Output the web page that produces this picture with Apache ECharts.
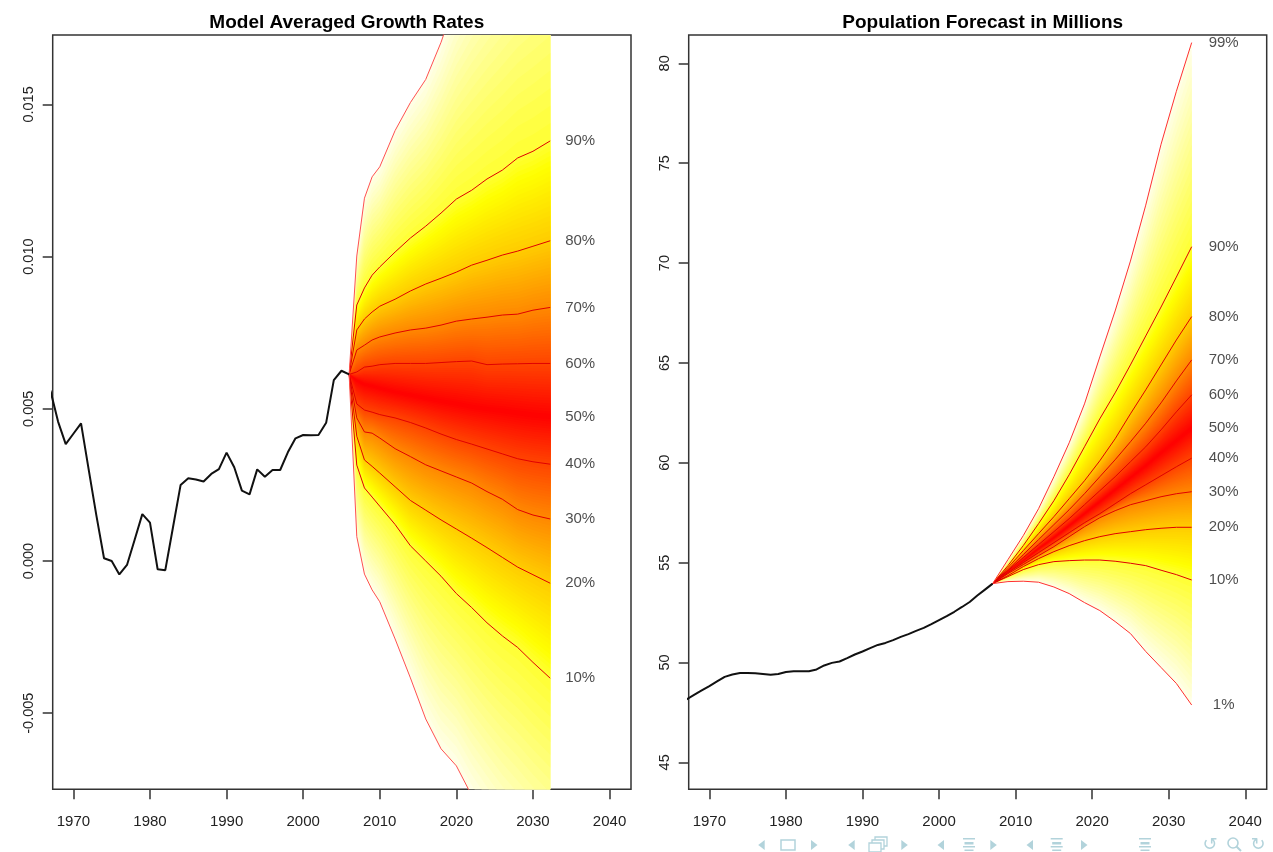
<!DOCTYPE html>
<html><head><meta charset="utf-8">
<script src="https://cdn.jsdelivr.net/npm/echarts@6/dist/echarts.min.js"></script>
<style>html,body{margin:0;padding:0;background:#fff}#c{width:1273px;height:852px}</style>
</head><body><div id="c"></div>
<script>
// ---------------- data ----------------
const xTicks = [1970, 1980, 1990, 2000, 2010, 2020, 2030, 2040];
const growthTicks = [-0.005, 0.000, 0.005, 0.010, 0.015];
const popTicks = [45, 50, 55, 60, 65, 70, 75, 80];

const growthHistYears = [1967,1968,1969,1970,1971,1972,1973,1974,1975,1976,1977,1978,1979,1980,1981,1982,1983,1984,1985,1986,1987,1988,1989,1990,1991,1992,1993,1994,1995,1996,1997,1998,1999,2000,2001,2002,2003,2004,2005,2006];
const growthHist = [0.0056,0.00458,0.00384,0.00418,0.00452,0.0030,0.0015,0.00009,0.0000,-0.00044,-0.00013,0.0007,0.00154,0.00126,-0.00027,-0.0003,0.0011,0.0025,0.00272,0.00268,0.00261,0.00286,0.00302,0.00356,0.00308,0.00231,0.00219,0.00301,0.00277,0.00299,0.00299,0.00357,0.00403,0.00414,0.00413,0.00414,0.00454,0.00594,0.00625,0.00613];

const popHistYears = [1967,1968,1969,1970,1971,1972,1973,1974,1975,1976,1977,1978,1979,1980,1981,1982,1983,1984,1985,1986,1987,1988,1989,1990,1991,1992,1993,1994,1995,1996,1997,1998,1999,2000,2001,2002,2003,2004,2005,2006,2007];
const popHist = [48.15,48.38,48.6,48.82,49.05,49.28,49.40,49.47,49.47,49.46,49.42,49.38,49.42,49.52,49.56,49.56,49.56,49.65,49.85,49.98,50.05,50.22,50.40,50.55,50.72,50.88,50.98,51.12,51.28,51.42,51.58,51.73,51.92,52.12,52.32,52.54,52.78,53.03,53.35,53.65,53.95];

// growth-rate forecast percentiles
const growthFcYears = [2006,2007,2008,2009,2010,2012,2014,2016,2018,2020,2022,2024,2026,2028,2030,2032.25];
const g01 = [0.00613,0.0008,-0.00043,-0.00095,-0.00134,-0.00256,-0.00384,-0.00519,-0.00617,-0.00673,-0.0077,-0.0085,-0.0093,-0.0100,-0.0107,-0.0114];
const g10 = [0.00613,0.00315,0.0024,0.0021,0.0018,0.0012,0.0005,0.0000,-0.0005,-0.00107,-0.00153,-0.00203,-0.00246,-0.00284,-0.00333,-0.00385];
const g20 = [0.00613,0.0041,0.00332,0.00311,0.00289,0.00244,0.00199,0.00167,0.00135,0.00105,0.00075,0.00044,0.00012,-0.0002,-0.00045,-0.00073];
const g30 = [0.00613,0.0047,0.00424,0.0042,0.00404,0.00369,0.00343,0.00316,0.00296,0.00276,0.00256,0.00228,0.00203,0.00169,0.00151,0.00138];
const g40 = [0.00613,0.00516,0.00496,0.00489,0.00481,0.0047,0.00455,0.00437,0.00417,0.00399,0.00384,0.00368,0.00352,0.00336,0.00326,0.00318];
const g50 = [0.00613,0.00594,0.00581,0.00575,0.00568,0.00555,0.00545,0.00535,0.00525,0.00516,0.00506,0.00499,0.00493,0.00486,0.00479,0.00474];
const g60 = [0.00613,0.00621,0.00637,0.0064,0.00645,0.00649,0.00649,0.00649,0.00652,0.00655,0.00657,0.00645,0.00647,0.00648,0.00649,0.00649];
const g70 = [0.00613,0.00693,0.00709,0.00726,0.00736,0.00749,0.00759,0.00765,0.00775,0.00788,0.00795,0.00801,0.00808,0.00811,0.00824,0.00833];
const g80 = [0.00613,0.00759,0.00795,0.00818,0.00837,0.0086,0.00887,0.0091,0.00929,0.00949,0.00972,0.00988,0.01005,0.01018,0.01034,0.01052];
const g90 = [0.00613,0.00841,0.00897,0.00939,0.00966,0.01015,0.01061,0.011,0.01143,0.01189,0.01218,0.01255,0.01284,0.01324,0.01346,0.0138];
const g99 = [0.00613,0.01002,0.01192,0.01262,0.01295,0.01414,0.01506,0.01582,0.01704,0.0185,0.0197,0.0207,0.0217,0.0226,0.0234,0.0242];

// population forecast percentiles
const popFcYears = [2007,2009,2011,2013,2015,2017,2019,2021,2023,2025,2027,2029,2031,2033];
const p01 = [53.95,54.05,54.07,54.02,53.78,53.45,53.0,52.6,52.05,51.45,50.55,49.75,48.95,47.87];
const p10 = [53.95,54.3,54.65,54.9,55.05,55.1,55.13,55.13,55.07,54.97,54.85,54.62,54.4,54.13];
const p20 = [53.95,54.35,54.8,55.2,55.55,55.85,56.1,56.3,56.45,56.55,56.65,56.72,56.77,56.77];
const p30 = [53.95,54.45,54.9,55.35,55.8,56.3,56.8,57.25,57.6,57.9,58.1,58.3,58.45,58.55];
const p40 = [53.95,54.5,55.0,55.5,56.0,56.5,57.0,57.45,57.95,58.45,58.9,59.35,59.8,60.23];
const p50 = [53.95,54.55,55.1,55.7,56.25,56.85,57.45,58.05,58.65,59.25,59.85,60.5,61.1,61.73];
const p60 = [53.95,54.6,55.25,55.9,56.55,57.2,57.9,58.6,59.3,60.05,60.8,61.65,62.55,63.4];
const p70 = [53.95,54.65,55.4,56.15,56.9,57.65,58.45,59.3,60.15,61.05,61.98,63.0,64.1,65.15];
const p80 = [53.95,54.75,55.6,56.45,57.3,58.2,59.1,60.1,61.2,62.45,63.65,64.9,66.15,67.32];
const p90 = [53.95,54.85,55.85,56.95,58.1,59.4,60.8,62.2,63.5,64.9,66.35,67.8,69.3,70.82];
const p99 = [53.95,55.15,56.35,57.7,59.3,61.0,62.95,65.3,67.6,70.1,72.9,75.95,78.6,81.04];

const fanProbs = [1,10,20,30,40,50,60,70,80,90,99];
const growthLines = [g01,g10,g20,g30,g40,g50,g60,g70,g80,g90,g99];
const popLines = [p01,p10,p20,p30,p40,p50,p60,p70,p80,p90,p99];
const growthLabelProbs = [10,20,30,40,50,60,70,80,90];
const popLabelProbs = [1,10,20,30,40,50,60,70,80,90,99];

// ---------------- rendering helpers ----------------
const FONT = 'Liberation Sans, Arial, Helvetica, sans-serif';
const TXT = '#222';

function heat(d){ // 0 = centre (red) ... 1 = outer (white)
  let g, b;
  if (d <= 0.75) { g = Math.round(255 * d / 0.75); b = 0; }
  else { g = 255; b = Math.round(255 * Math.min(1, (d - 0.75) / 0.25)); }
  return 'rgb(255,' + g + ',' + b + ')';
}
// shade between neighbouring drawn percentile lines (rendering only)
function level(lines, p, i){
  let j = 0;
  while (j < fanProbs.length - 2 && p > fanProbs[j+1]) j++;
  const t = (p - fanProbs[j]) / (fanProbs[j+1] - fanProbs[j]);
  return lines[j][i] * (1 - t) + lines[j+1][i] * t;
}
function fanSeries(idx, years, lines){
  const lv = [];
  for (let p = 1; p < 50; p += 0.5) lv.push([p]);
  return {
    type: 'custom', xAxisIndex: idx, yAxisIndex: idx, silent: true, z: 1,
    data: lv, encode: {x: -1, y: -1},
    renderItem(params, api){
      const p = lv[params.dataIndex][0];
      const pts = [];
      for (let i = 0; i < years.length; i++) pts.push(api.coord([years[i], level(lines, p, i)]));
      for (let i = years.length - 1; i >= 0; i--) pts.push(api.coord([years[i], level(lines, 100 - p, i)]));
      const cs = params.coordSys;
      const col = heat((50 - (p + 0.25)) / 50);
      return {
        type: 'group',
        clipPath: {type: 'rect', shape: {x: cs.x, y: cs.y, width: cs.width, height: cs.height}},
        children: [{type: 'polygon', shape: {points: pts}, style: {fill: col}}]
      };
    }
  };
}
function lineSeries(idx, years, vals, color, width, z){
  return {type: 'line', xAxisIndex: idx, yAxisIndex: idx, data: years.map((y, i) => [y, vals[i]]),
    showSymbol: false, symbol: 'none', silent: true, z: z, clip: true,
    lineStyle: {color: color, width: width}, animation: false};
}
function labelSeries(idx, years, lines, probs, dx){
  const last = years.length - 1;
  return {type: 'scatter', xAxisIndex: idx, yAxisIndex: idx, silent: true, z: 6, symbolSize: 1,
    itemStyle: {color: 'transparent'},
    data: probs.map(p => [years[last], lines[fanProbs.indexOf(p)][last]]),
    label: {show: true, position: 'inside', offset: [dx, 0], align: 'center', verticalAlign: 'middle',
      formatter: (q) => probs[q.dataIndex] + '%', fontSize: 15, color: TXT, fontFamily: FONT}};
}

const gridL = {left: 52.7, top: 35, width: 578.3, height: 754.3};
const gridR = {left: 688.7, top: 35, width: 578.0, height: 754.3};

function xAxis(i){
  return {type: 'value', gridIndex: i, min: 1967.3, max: 2042.8,
    splitLine: {show: false}, axisLine: {show: false, onZero: false},
    axisTick: {show: true, length: 10, customValues: xTicks, lineStyle: {color: '#333', width: 1.5}},
    axisLabel: {customValues: xTicks, margin: 25, fontSize: 15, color: TXT, fontFamily: FONT, formatter: v => String(v)}};
}
function yAxis(i, min, max, ticks, fmt){
  return {type: 'value', gridIndex: i, min: min, max: max,
    splitLine: {show: false}, axisLine: {show: false, onZero: false},
    axisTick: {show: true, length: 10, customValues: ticks, lineStyle: {color: '#333', width: 1.5}},
    axisLabel: {customValues: ticks, rotate: 90, margin: 16, fontSize: 14.5, color: TXT, fontFamily: FONT, formatter: fmt}};
}

const series = [];
series.push(fanSeries(0, growthFcYears, growthLines));
series.push(fanSeries(1, popFcYears, popLines));
// percentile lines
[1,10,20,30,40,60,70,80,90,99].forEach(p => {
  const outer = (p === 1 || p === 99);
  series.push(lineSeries(0, growthFcYears, growthLines[fanProbs.indexOf(p)], outer ? '#ff5050' : '#e00000', 1, outer ? 3 : 2));
  series.push(lineSeries(1, popFcYears, popLines[fanProbs.indexOf(p)], outer ? '#ff3030' : '#e00000', 1, outer ? 3 : 2));
});
series.push(lineSeries(0, growthHistYears, growthHist, '#111', 2, 4));
series.push(lineSeries(1, popHistYears, popHist, '#111', 2, 4));
series.push(labelSeries(0, growthFcYears, growthLines, growthLabelProbs, 30));
series.push(labelSeries(1, popFcYears, popLines, popLabelProbs, 32));

// beamer navigation symbols (decoration)
const NAV = '#b2d3db';
const nav = [];
[761.7, 851.7, 941, 1030].forEach(cx => nav.push({type: 'polygon', shape: {points: [[cx+3,840],[cx+3,850],[cx-3.5,845]]}, style: {fill: NAV}}));
[814, 904.3, 993.3, 1084].forEach(cx => nav.push({type: 'polygon', shape: {points: [[cx-3,840],[cx-3,850],[cx+3.5,845]]}, style: {fill: NAV}}));
nav.push({type: 'rect', shape: {x: 781, y: 840, width: 14, height: 10}, style: {fill: '#fff', stroke: NAV, lineWidth: 1.5}});
[[875,837],[872,840],[869,843]].forEach(([x,y]) => nav.push({type: 'rect', shape: {x: x, y: y, width: 12, height: 9}, style: {fill: '#fff', stroke: NAV, lineWidth: 1.3}}));
[969, 1056.7, 1145].forEach(cx => {
  [[838,12,1.5],[842,9,2.5],[846,12,1.5],[849.5,9,1.5]].forEach(([y,w,h]) => nav.push({type: 'rect', shape: {x: cx - w/2, y: y, width: w, height: h}, style: {fill: NAV}}));
});
nav.push({type: 'text', x: 1210, y: 845, style: {text: '\u21BA', fill: NAV, font: '18px DejaVu Sans', align: 'center', verticalAlign: 'middle'}});
nav.push({type: 'text', x: 1258, y: 845, style: {text: '\u21BB', fill: NAV, font: '18px DejaVu Sans', align: 'center', verticalAlign: 'middle'}});
nav.push({type: 'circle', shape: {cx: 1233, cy: 843, r: 5}, style: {fill: 'none', stroke: NAV, lineWidth: 1.6}});
nav.push({type: 'line', shape: {x1: 1236.5, y1: 846.5, x2: 1241, y2: 851}, style: {stroke: NAV, lineWidth: 2}});

const chart = echarts.init(document.getElementById('c'));
chart.setOption({
  animation: false,
  backgroundColor: '#fff',
  title: [
    {text: 'Model Averaged Growth Rates', left: 341.8, top: 8, textAlign: 'center',
     textStyle: {fontSize: 19, fontWeight: 'bold', color: '#000', fontFamily: FONT}},
    {text: 'Population Forecast in Millions', left: 977.7, top: 8, textAlign: 'center',
     textStyle: {fontSize: 19, fontWeight: 'bold', color: '#000', fontFamily: FONT}}
  ],
  grid: [
    Object.assign({show: true, borderColor: '#333', borderWidth: 1.5, backgroundColor: 'transparent'}, gridL),
    Object.assign({show: true, borderColor: '#333', borderWidth: 1.5, backgroundColor: 'transparent'}, gridR)
  ],
  xAxis: [xAxis(0), xAxis(1)],
  yAxis: [
    yAxis(0, -0.0075, 0.01728, growthTicks, v => v.toFixed(3)),
    yAxis(1, 43.65, 81.42, popTicks, v => String(v))
  ],
  series: series,
  graphic: nav
});
</script></body></html>
